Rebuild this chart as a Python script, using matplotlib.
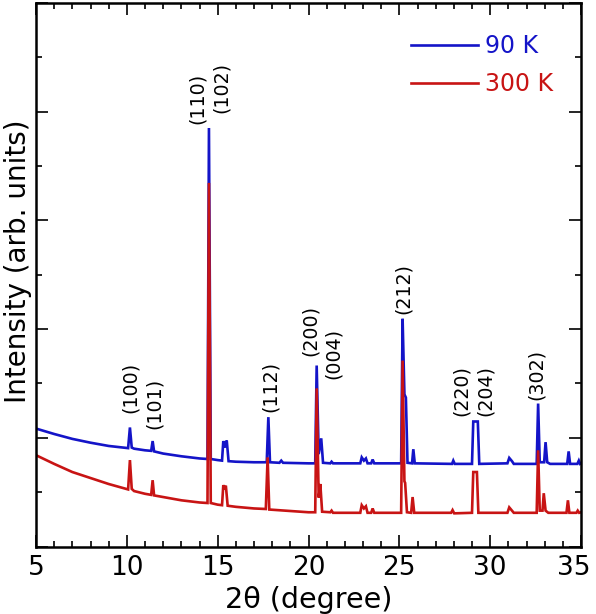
import matplotlib
matplotlib.use("Agg")
import matplotlib.pyplot as plt
from matplotlib.ticker import MultipleLocator

# ---- data (2theta in degrees, intensity in arb. units) ----
tth_90 = [5.0, 6.0, 7.0, 8.0, 9.0, 10.07, 10.17, 10.27, 10.4, 11.0, 11.34, 11.42, 11.5,
          12.0, 13.0, 14.0, 14.44, 14.52, 14.62, 15.0, 15.24, 15.31, 15.4, 15.5, 15.6,
          16.0, 17.0, 17.7, 17.79, 17.88, 18.4, 18.5, 18.6, 20.0, 20.37, 20.45, 20.56,
          20.7, 20.8, 21.2, 21.27, 21.35, 22.85, 22.93, 23.05, 23.16, 23.25, 23.45, 23.53,
          23.62, 25.1, 25.18, 25.28, 25.36, 25.45, 25.7, 25.77, 25.85, 27.9, 27.97, 28.05,
          29.0, 29.07, 29.32, 29.4, 30.95, 31.05, 31.2, 31.3, 32.56, 32.64, 32.73, 32.97,
          33.05, 33.14, 33.3, 34.24, 34.32, 34.4, 34.8, 34.88, 34.95, 35.0]
int_90 = [2.17, 2.07, 1.98, 1.91, 1.85, 1.81, 2.19, 1.82, 1.80, 1.77, 1.76, 1.94, 1.75,
          1.71, 1.66, 1.62, 1.61, 7.70, 1.61, 1.59, 1.58, 1.94, 1.82, 1.95, 1.57,
          1.56, 1.55, 1.55, 2.38, 1.55, 1.54, 1.58, 1.54, 1.53, 1.53, 3.33, 1.70,
          1.99, 1.54, 1.53, 1.56, 1.53, 1.53, 1.64, 1.58, 1.62, 1.53, 1.53, 1.60,
          1.53, 1.53, 4.19, 2.80, 2.74, 1.54, 1.53, 1.79, 1.53, 1.52, 1.58, 1.52,
          1.52, 2.30, 2.30, 1.52, 1.53, 1.63, 1.57, 1.52, 1.52, 2.63, 1.55, 1.55,
          1.92, 1.55, 1.52, 1.52, 1.75, 1.52, 1.52, 1.58, 1.52, 1.53]

tth_300 = [5.0, 6.0, 7.0, 8.0, 9.0, 10.07, 10.17, 10.27, 10.4, 11.0, 11.34, 11.42, 11.5,
           12.0, 13.0, 14.0, 14.44, 14.52, 14.62, 15.0, 15.24, 15.31, 15.38, 15.45, 15.55,
           16.0, 17.0, 17.65, 17.75, 17.84, 20.0, 20.37, 20.45, 20.56, 20.65, 20.75,
           21.2, 21.27, 21.35, 22.85, 22.93, 23.05, 23.16, 23.25, 23.45, 23.53, 23.62,
           25.1, 25.18, 25.28, 25.32, 25.42, 25.65, 25.73, 25.82, 27.85, 27.93, 28.02,
           29.0, 29.07, 29.27, 29.35, 30.95, 31.05, 31.2, 31.3, 32.56, 32.64, 32.73,
           32.88, 32.95, 33.05, 33.2, 34.2, 34.28, 34.36, 34.75, 34.82, 34.9, 35.0]
int_300 = [1.68, 1.52, 1.37, 1.26, 1.15, 1.05, 1.59, 1.06, 1.02, 0.97, 0.95, 1.22, 0.94,
           0.91, 0.85, 0.81, 0.80, 6.69, 0.80, 0.77, 0.76, 1.13, 1.05, 1.12, 0.75,
           0.73, 0.70, 0.69, 1.64, 0.68, 0.63, 0.63, 2.91, 0.90, 1.15, 0.64,
           0.63, 0.66, 0.62, 0.62, 0.76, 0.70, 0.74, 0.62, 0.62, 0.70, 0.62,
           0.62, 3.42, 1.20, 1.17, 0.63, 0.62, 0.91, 0.62, 0.62, 0.67, 0.61,
           0.62, 1.37, 1.37, 0.62, 0.62, 0.72, 0.66, 0.62, 0.62, 1.77, 0.66,
           0.66, 0.98, 0.66, 0.62, 0.62, 0.85, 0.62, 0.62, 0.66, 0.62, 0.63]

series_labels = ["90 K", "300 K"]
series_colors = ["#1414c8", "#c81414"]

xtick_values = [5, 10, 15, 20, 25, 30, 35]

peak_labels = ["(100)", "(101)", "(110)", "(102)", "(112)", "(200)", "(004)",
               "(212)", "(220)", "(204)", "(302)"]
peak_label_x = [10.17, 11.49, 13.86, 15.18, 17.88, 20.13, 21.35, 25.2, 28.39, 29.71, 32.52]
peak_label_y = [2.45, 2.17, 7.77, 7.97, 2.47, 3.51, 3.09, 4.28, 2.41, 2.41, 2.69]

xlabel = "2\u03b8 (degree)"
ylabel = "Intensity (arb. units)"

# ---- figure ----
plt.rcParams['font.family'] = ['DejaVu Sans']
fig = plt.figure(figsize=(5.96, 6.14), dpi=100)
ax = fig.add_axes([36 / 596, (614 - 546.5) / 614, 545 / 596, 543.5 / 614])

ax.plot(tth_90, int_90, color=series_colors[0], lw=1.9, label=series_labels[0],
        solid_joinstyle='miter')
ax.plot(tth_300, int_300, color=series_colors[1], lw=1.9, label=series_labels[1],
        solid_joinstyle='miter')

for txt, px, py in zip(peak_labels, peak_label_x, peak_label_y):
    ax.text(px, py, txt, rotation=90, ha='center', va='bottom', fontsize=13.7,
            color='black')

ax.set_xlim(5, 35)
ax.set_ylim(0, 10)
ax.set_xticks(xtick_values)
ax.xaxis.set_minor_locator(MultipleLocator(1))
ax.yaxis.set_major_locator(MultipleLocator(2))
ax.yaxis.set_minor_locator(MultipleLocator(1))
ax.tick_params(which='both', direction='in', top=True, right=True, width=1.2)
ax.tick_params(which='major', length=8.6)
ax.tick_params(which='minor', length=4.3)
ax.tick_params(which='both', labelleft=False, labelbottom=False)
for s in ax.spines.values():
    s.set_linewidth(1.8)

# x tick labels (the last one nudged inward so it stays inside the figure)
for i, v in enumerate(xtick_values):
    dx = -5 if i == len(xtick_values) - 1 else 0
    ax.annotate(str(v), xy=(v, 0), xycoords=('data', 'axes fraction'),
                xytext=(dx, -6), textcoords='offset points',
                ha='center', va='top', fontsize=19)

ax.set_xlabel(xlabel, fontsize=20.5)
ax.xaxis.set_label_coords(0.5, -0.072)
ax.set_ylabel(ylabel, fontsize=20)
ax.yaxis.set_label_coords(-0.008, 0.525)

leg = ax.legend(loc='upper left', bbox_to_anchor=(0.688, 0.943), frameon=False,
                fontsize=17, handlelength=2.84, handletextpad=0.3, labelspacing=0.6,
                borderpad=0, borderaxespad=0)
for t, c in zip(leg.get_texts(), series_colors):
    t.set_color(c)

fig.savefig("out.png", dpi=100)
